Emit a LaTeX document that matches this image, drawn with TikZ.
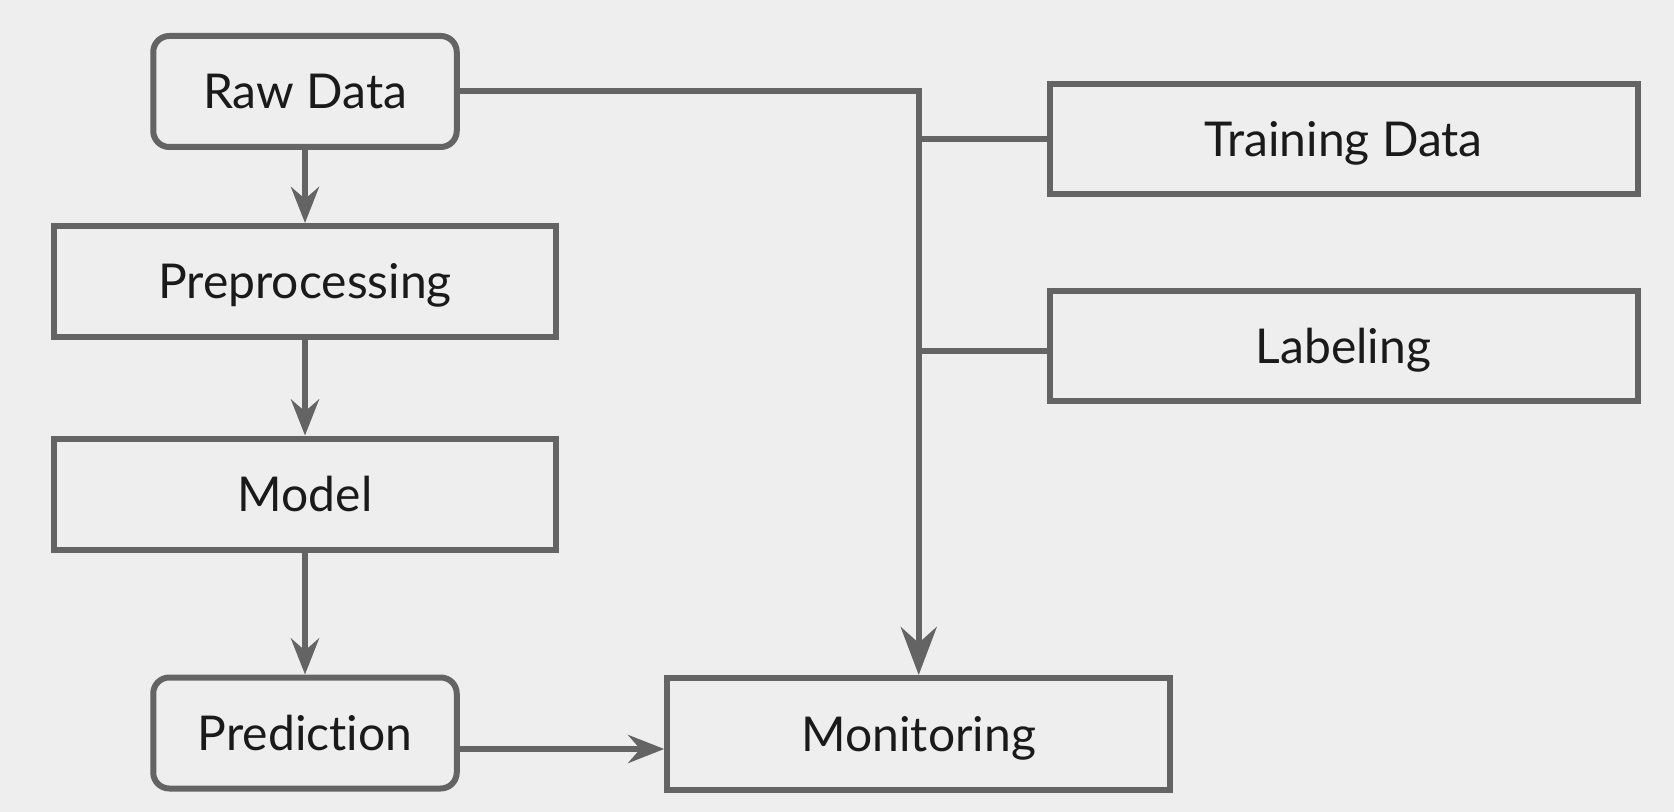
\documentclass[tikz,border=0pt]{standalone}
\usepackage{fontspec}
\setmainfont{Lato}[Ligatures=NoCommon]
\usetikzlibrary{arrows.meta}
\definecolor{bg}{HTML}{EEEEEE}
\definecolor{ln}{HTML}{646464}
\definecolor{tx}{HTML}{1A1A1A}
\begin{document}
\begin{tikzpicture}[x=0.5pt,y=-0.5pt,
  base/.style={draw=ln, line width=3pt, text=tx, inner sep=0pt,
    font=\fontsize{24}{28}\selectfont, text height=17.2pt, text depth=0pt},
  rbox/.style={base, rounded corners=8pt, minimum width=151.75pt, minimum height=55.5pt},
  wbox/.style={base, minimum width=251pt, minimum height=55.5pt},
  mbox/.style={base, minimum width=251.5pt, minimum height=56pt},
  tbox/.style={base, minimum width=294pt, minimum height=55pt},
  conn/.style={draw=ln, line width=3pt},
  arr/.style={conn, -{Stealth[length=18pt, width=14pt, inset=6pt]}},
  bigarr/.style={conn, -{Stealth[length=24pt, width=18pt, inset=8pt]}}]
\fill[bg] (0,0) rectangle (1674,812);
\useasboundingbox (0,0) rectangle (1674,812);
\node[rbox] (raw) at (305,91.5) {Raw Data};
\node[wbox] (pre) at (305,281.5) {Preprocessing};
\node[wbox] (mod) at (305,494) {Model};
\node[rbox] (pred) at (305,733) {Prediction};
\node[mbox] (mon) at (918.7,734) {Monitoring};
\node[tbox] (train) at (1343.5,139) {Training Data};
\node[tbox] (lab) at (1343.5,346) {Labeling};
\draw[arr] (raw) -- (pre);
\draw[arr] (pre) -- (mod);
\draw[arr] (mod) -- (pred);
\draw[arr] ([yshift=-8pt]pred.east) -- ([yshift=-8pt]pred.east -| mon.west);
\draw[bigarr] (raw.east) -| (mon.north);
\draw[conn] (mon.north |- train.west) -- (train.west);
\draw[conn] ([yshift=-2.5pt]mon.north |- lab.west) -- ([yshift=-2.5pt]lab.west);
\end{tikzpicture}
\end{document}
